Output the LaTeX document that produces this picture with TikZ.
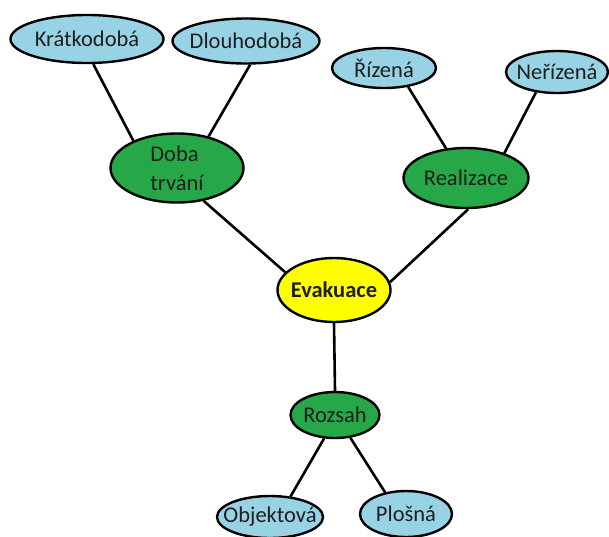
\documentclass[tikz,border=0pt]{standalone}
\usepackage{fontspec}
\setmainfont{Carlito}
\usetikzlibrary{shapes.geometric}
\definecolor{leafblue}{RGB}{152,211,229}
\definecolor{midgreen}{RGB}{38,168,72}
\definecolor{rootyellow}{RGB}{255,255,0}
\definecolor{txt}{RGB}{30,30,30}
\tikzset{
  base/.style={ellipse, draw=black, line width=2.4pt, inner xsep=-20pt, inner ysep=-12pt, text=txt, font=\fontsize{22.5}{29}\selectfont},
  leaf/.style={base, fill=leafblue},
  mid/.style={base, fill=midgreen},
  root/.style={base, fill=rootyellow, font=\fontsize{22.5}{29}\selectfont\bfseries},
  link/.style={line width=2.6pt, draw=black}
}
\begin{document}
\begin{tikzpicture}[x=1pt,y=-1pt]
\useasboundingbox (0,0) rectangle (609,536);
\node[leaf, minimum width=153pt, minimum height=48pt] (kratko) at (87,39) {Krátkodobá};
\node[leaf, minimum width=147pt, minimum height=45pt] (dlouho) at (246,41) {Dlouhodobá};
\node[leaf, minimum width=104pt, minimum height=40pt] (rizena) at (384,68) {Řízená};
\node[leaf, minimum width=102pt, minimum height=42pt] (nerizena) at (557,72) {Neřízená};
\node[mid, minimum width=133pt, minimum height=69pt, align=left] (doba) at (177,168) {Doba\\trvání};
\node[mid, minimum width=125pt, minimum height=60pt] (realizace) at (466,178) {Realizace};
\node[root, minimum width=113pt, minimum height=64pt] (evakuace) at (334,290) {Evakuace};
\node[mid, minimum width=89pt, minimum height=46pt] (rozsah) at (335,415) {Rozsah};
\node[leaf, minimum width=106pt, minimum height=42pt] (objektova) at (270,517) {Objektová};
\node[leaf, minimum width=92pt, minimum height=46pt] (plosna) at (406,514) {Plošná};
\draw[link] (kratko.-76) -- (doba.148);
\draw[link] (dlouho.-80) -- (doba.45);
\draw[link] (doba.-51) -- (evakuace.160);
\draw[link] (evakuace.8) -- (realizace.-86);
\draw[link] (rizena.-38) -- (realizace.124);
\draw[link] (nerizena.-136) -- (realizace.33);
\draw[link] (evakuace.south) -- (rozsah.north);
\draw[link] (rozsah.-115) -- (objektova.45);
\draw[link] (rozsah.-56) -- (plosna.134);
\end{tikzpicture}
\end{document}
